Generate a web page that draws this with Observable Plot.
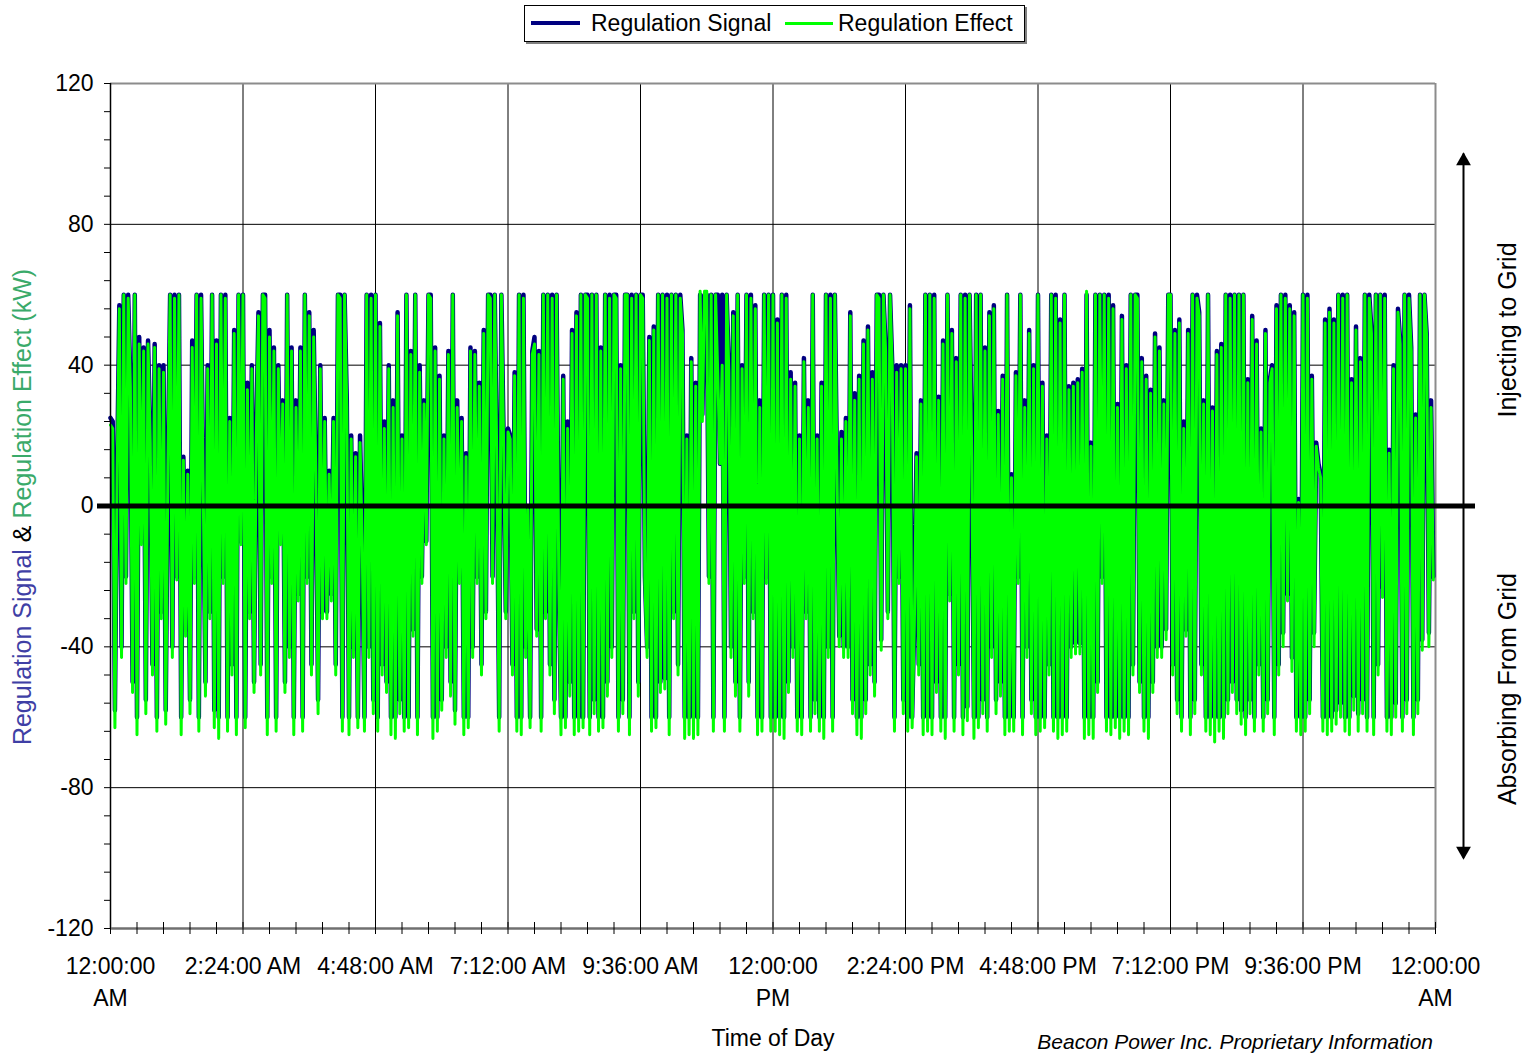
<!DOCTYPE html>
<html><head><meta charset="utf-8">
<script src="https://cdn.jsdelivr.net/npm/d3@7"></script>
<script src="https://cdn.jsdelivr.net/npm/@observablehq/plot@0.6"></script>
<style>
body{margin:0;background:#fff;font-family:"Liberation Sans",Arial,sans-serif;}
#wrap{position:relative;width:1527px;height:1053px;overflow:hidden;background:#fff;}
#wrap svg{position:absolute;left:0;top:0;}
.legend{position:absolute;left:524px;top:5px;width:499px;height:35px;border:1px solid #000;box-shadow:2px 2px 0 #808080;background:#fff;font-size:23px;}
.legend .sw{position:absolute;top:16px;}
.legend .lb{position:absolute;top:4px;line-height:26px;white-space:nowrap;}
.ytitle{position:absolute;left:22px;top:507px;transform:translate(-50%,-50%) rotate(-90deg);white-space:nowrap;font-size:25px;line-height:1;}
.xtitle{position:absolute;left:773px;top:1027px;transform:translateX(-50%);font-size:23px;line-height:1;white-space:nowrap;}
.caption{position:absolute;right:94px;top:1031px;font-size:21px;font-style:italic;line-height:1;white-space:nowrap;}
</style></head><body><div id="wrap"></div>
<script>
// Time axis (hours of day) tick positions and labels
const xTicks = [0, 2.4, 4.8, 7.2, 9.6, 12, 14.4, 16.8, 19.2, 21.6, 24];
const xTickLabels = ["12:00:00\nAM", "2:24:00 AM", "4:48:00 AM", "7:12:00 AM", "9:36:00 AM", "12:00:00\nPM", "2:24:00 PM", "4:48:00 PM", "7:12:00 PM", "9:36:00 PM", "12:00:00\nAM"];
const yTicks = [-120, -80, -40, 0, 40, 80, 120];
const yTickLabels = ["-120", "-80", "-40", "0", "40", "80", "120"];
const seriesNames = ["Regulation Signal", "Regulation Effect"];

// Regulation Signal (kW), in 2.4-hour blocks
const sig0 = [25,24,-58,10,57,-40,60,-20,60,35,-50,60,-60,48,-10,45,-55,47,20,-45,46,-60,40,-30,40,-58,12,60,-40,60,-20,60,-60,14,-35,10,-55,47,-20,60,-60,60,5,-50,40,-30,60,-58,47,-60,60,-20,60,-60,25,-45,50,-60,60,-10];
const sig1 = [60,-60,35,-30,40,-50,20,55,-45,60,60,-60,50,-20,45,-60,40,-10,30,-50,60,-40,45,-60,30,-25,45,-60,60,-20,55,-45,50,10,-55,40,-30,25,-30,10,-25,25,-45,60,60,-60,60,30,-60,20,-40,15,-60,20,-10,-60,60,-40,60,-55];
const sig2 = [60,-60,52,-45,24,-50,40,-60,30,-60,55,-55,20,-60,60,-60,44,-35,60,-60,40,-20,30,-10,60,60,-60,45,-60,37,-55,20,-40,44,-50,60,-58,30,-20,25,-60,15,-60,45,-40,44,-20,35,-45,50,-30,60,60,-20,60,10,-60,60,20,-30];
const sig3 = [22,20,-45,38,-60,60,-60,60,-40,0,-60,44,48,-35,44,-60,60,-30,60,-45,60,-55,60,-20,-60,37,-60,24,-50,50,-60,55,-60,60,-60,60,60,-60,60,-55,60,-60,45,-60,60,-50,60,-40,60,60,-60,40,-55,60,60,-60,60,-30,60,-50];
const sig4 = [60,60,-20,-40,48,-60,51,-60,60,-50,60,-49,60,-60,60,-30,60,-45,60,50,-60,20,-60,42,-60,35,-60,60,26,60,60,-20,60,-60,60,60,12,60,-60,60,40,-40,55,-50,60,-60,40,-20,60,-50,60,-30,57,-60,30,-60,60,-20,60,-60];
const sig5 = [60,-60,53,-60,60,-60,60,-50,38,-40,35,-60,20,-60,42,-30,30,-60,60,-55,20,-60,35,-60,60,-40,60,-60,60,10,-37,21,-40,25,-40,55,-55,32,-60,37,-60,47,-55,51,-45,38,-50,60,60,-38,60,45,-30,60,40,-60,40,-20,40,-55];
const sig6 = [40,-60,57,-60,-32,15,-45,30,-60,60,-60,60,-60,60,-50,31,-60,47,-60,60,-25,50,-60,42,-45,60,-60,60,-57,60,16,-60,60,-60,60,-55,45,-60,55,-40,57,-55,27,-50,37,-60,60,-60,9,-60,38,-20,60,-60,30,-40,50,-55,40,-60];
const sig7 = [60,-60,35,-60,20,-45,60,-60,60,-60,53,-60,60,-60,34,-40,35,-39,36,-39,39,-60,60,-60,18,-60,60,-50,60,-20,60,-60,60,-60,57,-60,29,-60,54,-60,40,-60,60,-45,60,60,-50,42,-60,37,-60,33,-50,49,-40,45,-40,30,-35,60];
const sig8 = [60,-45,50,-55,53,-60,24,-35,50,-60,60,-55,60,55,-45,30,-60,60,-60,28,-60,44,-60,46,-60,60,-55,60,-50,60,-55,60,-58,60,-60,36,-55,54,-60,47,-45,22,-60,50,-55,36,40,-60,57,-45,60,-36,60,-25,57,-43,55,-60,2,-60];
const sig9 = [60,-60,60,-55,37,-36,18,12,9,-60,53,-60,56,-60,53,-58,60,-56,60,-60,60,-60,36,-54,51,-59,42,-55,60,-60,60,50,-60,60,-45,60,-23,60,-60,16,-60,40,-56,56,47,-60,60,-55,60,45,-60,26,-55,60,-38,60,49,-36,30,-20];

// Regulation Effect (kW), in 2.4-hour blocks
const eff0 = [23,22,-63,9,56,-43,60,-22,59,34,-53,60,-65,46,-11,44,-59,46,18,-48,45,-64,39,-32,38,-62,11,60,-43,59,-21,60,-65,13,-37,9,-59,45,-22,60,-64,59,4,-54,39,-32,60,-63,46,-66,60,-22,59,-64,24,-48,49,-65,60,-11];
const eff1 = [60,-63,33,-32,39,-53,19,54,-48,60,59,-65,48,-22,44,-64,39,-11,29,-53,60,-43,44,-65,28,-27,44,-64,60,-22,54,-48,48,9,-59,39,-32,24,-32,9,-27,24,-48,60,59,-64,60,28,-65,19,-43,14,-63,18,-11,-64,60,-43,59,-59];
const eff2 = [60,-64,51,-48,22,-53,39,-65,28,-66,54,-59,19,-64,60,-63,43,-37,60,-65,38,-22,29,-11,60,59,-66,44,-64,36,-58,19,-43,43,-54,60,-62,28,-22,24,-65,14,-63,44,-43,43,-22,34,-48,49,-32,60,59,-22,60,9,-64,60,18,-32];
const eff3 = [21,19,-48,37,-64,60,-65,59,-43,-1,-63,43,46,-37,43,-64,60,-32,60,-48,59,-59,60,-22,-65,36,-63,22,-54,49,-65,54,-64,60,-63,60,59,-65,60,-59,60,-64,44,-63,60,-54,59,-43,60,59,-64,39,-59,60,60,-65,59,-32,60,-54];
const eff4 = [60,59,-22,-43,47,-64,50,-63,60,-53,60,-52,59,-65,60,-32,60,-48,59,49,-66,19,-65,41,-66,34,-65,61,24,61,61,-22,60,-64,60,37,12,40,-64,60,38,-43,54,-54,60,-64,39,-22,60,-54,59,-32,56,-65,28,-64,60,-22,60,-64];
const eff5 = [60,-64,52,-65,60,-66,59,-53,36,-43,34,-64,19,-65,41,-32,28,-64,60,-59,19,-64,34,-66,60,-43,59,-64,60,9,-40,19,-43,24,-43,54,-59,30,-65,36,-66,46,-59,50,-48,36,-54,60,59,-41,60,44,-32,60,39,-64,38,-22,39,-59];
const eff6 = [39,-64,56,-63,-34,14,-48,29,-65,60,-64,60,-65,59,-53,30,-64,46,-66,60,-27,49,-64,41,-48,60,-65,59,-61,60,14,-66,60,-63,60,-59,44,-64,54,-43,56,-59,26,-54,36,-65,60,-64,8,-64,37,-22,60,-65,28,-43,49,-59,39,-65];
const eff7 = [60,-64,34,-63,19,-48,60,-64,59,-66,52,-65,60,-64,33,-43,34,-42,35,-42,38,-66,61,-65,17,-66,60,-53,60,-22,60,-64,59,-65,56,-63,28,-66,53,-64,39,-65,60,-48,60,59,-53,41,-64,36,-66,32,-53,48,-43,44,-43,29,-38,60];
const eff8 = [60,-48,49,-59,52,-64,22,-37,49,-65,60,-59,59,54,-48,29,-64,60,-65,27,-67,43,-64,45,-66,60,-59,59,-53,60,-59,60,-62,60,-65,35,-59,53,-64,46,-48,21,-64,49,-59,35,39,-65,56,-48,60,-40,59,-27,56,-47,54,-64,1,-65];
const eff9 = [60,-64,59,-59,36,-40,17,11,8,-64,52,-65,55,-64,52,-62,60,-60,59,-64,60,-65,35,-58,50,-64,41,-59,60,-64,59,49,-65,60,-48,60,-26,59,-64,15,-65,39,-60,55,46,-64,60,-59,59,44,-65,25,-59,60,-41,60,48,-40,28,-21];

const signal = [...sig0, ...sig1, ...sig2, ...sig3, ...sig4, ...sig5, ...sig6, ...sig7, ...sig8, ...sig9];
const effect = [...eff0, ...eff1, ...eff2, ...eff3, ...eff4, ...eff5, ...eff6, ...eff7, ...eff8, ...eff9];

const sigData = signal.map((v, i) => ({t: i * 24 / signal.length, v}));
const effData = effect.map((v, i) => ({t: i * 24 / effect.length, v}));

const xMinor = d3.range(0, 24.0001, 0.48);
const yMinor = d3.range(-120, 120.001, 8);
const gridX = xTicks.slice(1, -1);
const gridY = [-80, -40, 40, 80];
const arrowEnds = [{y: 100}, {y: -100}];
const sideTexts = [{y: 50, t: "Injecting to Grid"}, {y: -52, t: "Absorbing From Grid"}];

const chart = Plot.plot({
  width: 1527, height: 1053,
  marginTop: 83, marginBottom: 125, marginLeft: 110, marginRight: 92,
  x: {domain: [0, 24]},
  y: {domain: [-120, 120]},
  style: {fontSize: "23px", fontFamily: "'Liberation Sans', Arial, sans-serif", background: "transparent", color: "#000", overflow: "visible"},
  marks: [
    Plot.ruleX(gridX, {stroke: "#000", strokeWidth: 1}),
    Plot.ruleY(gridY, {stroke: "#000", strokeWidth: 1}),
    Plot.ruleY([120], {stroke: "#8c8c8c", strokeWidth: 2}),
    Plot.ruleX([24], {stroke: "#8c8c8c", strokeWidth: 2}),
    Plot.line(sigData, {x: "t", y: "v", stroke: "#000080", strokeWidth: 4.5, strokeLinejoin: "round"}),
    Plot.line(effData, {x: "t", y: "v", stroke: "#00ff00", strokeWidth: 3, strokeLinejoin: "round"}),
    Plot.ruleX([0], {stroke: "#000", strokeWidth: 1.5}),
    Plot.ruleY([-120], {stroke: "#707070", strokeWidth: 2.5}),
    Plot.ruleY(yMinor, {x1: 0, x2: 0, insetLeft: -6, stroke: "#000", strokeWidth: 1}),
    Plot.ruleX(xMinor, {y1: -120, y2: -120, insetTop: -6, insetBottom: -6, stroke: "#000", strokeWidth: 1}),
    Plot.ruleY([0], {stroke: "#000", strokeWidth: 5, insetLeft: -13, insetRight: -40}),
    Plot.axisY(yTicks, {tickSize: 0, tickPadding: 17, tickFormat: d => yTickLabels[yTicks.indexOf(d)], label: null}),
    Plot.axisX(xTicks, {tickSize: 0, tickPadding: 23, tickFormat: d => xTickLabels[xTicks.indexOf(d)], label: null, lineHeight: 1.39}),
    Plot.ruleX([24], {y1: -100, y2: 100, dx: 28, stroke: "#000", strokeWidth: 2}),
    Plot.dot([arrowEnds[0]], {x: () => 24, y: "y", dx: 28, dy: 7, symbol: "triangle", r: 5.5, fill: "#000", stroke: null}),
    Plot.dot([arrowEnds[1]], {x: () => 24, y: "y", dx: 28, dy: -7, symbol: "triangle", rotate: 180, r: 5.5, fill: "#000", stroke: null}),
    Plot.text(sideTexts, {x: () => 24, y: "y", text: "t", rotate: -90, dx: 72, fontSize: 25, fill: "#000"})
  ]
});

const wrap = document.getElementById("wrap");
wrap.appendChild(chart);

const legend = document.createElement("div");
legend.className = "legend";
legend.innerHTML =
  `<div class="sw" style="left:6px;width:49px;height:4px;background:#000080;top:15px"></div>` +
  `<div class="lb" style="left:66px">${seriesNames[0]}</div>` +
  `<div class="sw" style="left:260px;width:48px;height:3px;background:#00ff00"></div>` +
  `<div class="lb" style="left:313px">${seriesNames[1]}</div>`;
wrap.appendChild(legend);

const yt = document.createElement("div");
yt.className = "ytitle";
yt.innerHTML = `<span style="color:#3f3fa5">Regulation Signal</span> <span style="color:#000">&amp;</span> <span style="color:#3aaa6a">Regulation Effect (kW)</span>`;
wrap.appendChild(yt);

const xt = document.createElement("div");
xt.className = "xtitle";
xt.textContent = "Time of Day";
wrap.appendChild(xt);

const cap = document.createElement("div");
cap.className = "caption";
cap.textContent = "Beacon Power Inc. Proprietary Information";
wrap.appendChild(cap);
</script></body></html>
